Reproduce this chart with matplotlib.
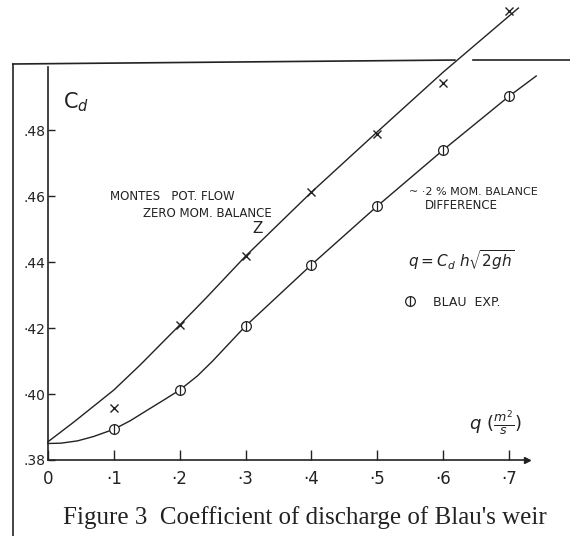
import matplotlib
matplotlib.use("Agg")
import matplotlib.pyplot as plt
from matplotlib.legend_handler import HandlerTuple

# readings taken off the scanned figure
q_ticks = [0, 0.1, 0.2, 0.3, 0.4, 0.5, 0.6, 0.7]
q_ticklabels = ["0", "·1", "·2", "·3", "·4", "·5", "·6", "·7"]
cd_ticks = [0.38, 0.40, 0.42, 0.44, 0.46, 0.48]
cd_ticklabels = [".38", "·40", "·42", ".44", ".46", ".48"]

# Montes potential flow, zero momentum balance (crosses)
q_montes = [0.1, 0.2, 0.3, 0.4, 0.5, 0.6, 0.7]
cd_montes = [0.3958, 0.4209, 0.4418, 0.4612, 0.4788, 0.4942, 0.5160]

# Blau experiment (circles)
q_blau = [0.1, 0.2, 0.3, 0.4, 0.5, 0.6, 0.7]
cd_blau = [0.3893, 0.4012, 0.4206, 0.4392, 0.4570, 0.4740, 0.4903]

# drawn curves
q_upper = [0.0, 0.04, 0.07, 0.1, 0.14, 0.2, 0.24, 0.3, 0.4, 0.5, 0.6, 0.714]
cd_upper = [0.3855, 0.3916, 0.3964, 0.4012, 0.4088, 0.4209, 0.4291, 0.4418,
            0.4612, 0.4795, 0.4976, 0.5170]
q_lower = [0.0, 0.02, 0.045, 0.069, 0.1, 0.125, 0.15, 0.176, 0.2, 0.227, 0.25,
           0.29, 0.3, 0.4, 0.5, 0.6, 0.7, 0.741]
cd_lower = [0.3850, 0.3851, 0.3858, 0.3871, 0.3893, 0.3919, 0.3950, 0.3982,
            0.4012, 0.4055, 0.4100, 0.4185, 0.4206, 0.4392, 0.4570, 0.4740,
            0.4903, 0.4964]

ink = "#222222"

fig = plt.figure(figsize=(5.7, 5.36), dpi=100)
ax = fig.add_axes([0.084, 0.1418, 0.8405, 0.733])

ax.plot(q_upper, cd_upper, color=ink, lw=1.0, clip_on=False)
ax.plot(q_lower, cd_lower, color=ink, lw=1.0, clip_on=False)
ax.plot(q_montes, cd_montes, ls="none", marker="x", ms=6, mew=1.0,
        color=ink, clip_on=False)
circ, = ax.plot(q_blau, cd_blau, ls="none", marker="o", ms=7, mew=0.9,
                mfc="white", mec=ink, clip_on=False)
bar, = ax.plot(q_blau, cd_blau, ls="none", marker="|", ms=7, mew=0.9,
               color=ink, clip_on=False)

ax.set_xlim(0, 0.727)
ax.set_ylim(0.38, 0.4991)
for s in ["top", "right"]:
    ax.spines[s].set_visible(False)
for s in ["left", "bottom"]:
    ax.spines[s].set_linewidth(1.2)
    ax.spines[s].set_color(ink)
ax.plot(1, 0, marker=">", ms=5, color=ink, transform=ax.transAxes, clip_on=False)

ax.set_xticks(q_ticks)
ax.set_xticklabels(q_ticklabels, fontsize=12, color=ink)
ax.set_yticks(cd_ticks)
ax.set_yticklabels(cd_ticklabels, fontsize=10, color=ink)
ax.tick_params(axis="x", direction="in", length=7, width=1, pad=7, colors=ink)
ax.tick_params(axis="y", direction="in", length=5, width=1, pad=2, colors=ink)

# annotations
ax.text(0.023, 0.4885, r"C$_d$", fontsize=15, color=ink, va="center")
ax.text(0.094, 0.4600, "MONTES   POT. FLOW", fontsize=8.5, color=ink, va="center")
ax.text(0.144, 0.4548, "ZERO MOM. BALANCE", fontsize=8.5, color=ink, va="center")
ax.text(0.311, 0.4503, "Z", fontsize=11, color=ink, va="center")
ax.text(0.548, 0.4612, "~ ·2 % MOM. BALANCE", fontsize=8, color=ink, va="center")
ax.text(0.572, 0.4570, "DIFFERENCE", fontsize=8.5, color=ink, va="center")
ax.text(0.546, 0.4406, r"$q = C_d\ h\sqrt{2gh}$", fontsize=11, color=ink,
        va="center")
ax.text(0.639, 0.3912, r"$q\ (\frac{m^2}{s})$", fontsize=13, color=ink,
        va="center")
ax.legend([(circ, bar)], ["BLAU  EXP."],
          handler_map={tuple: HandlerTuple(ndivide=1, pad=0)},
          loc="center left", bbox_to_anchor=(0.743, 0.402),
          borderaxespad=0, borderpad=0,
          frameon=False, fontsize=9, handlelength=1.0, handletextpad=1.35,
          numpoints=1, labelcolor=ink)

# page frame
fig.add_artist(plt.Line2D([0.0228, 0.0228], [0.0, 0.8806], color=ink, lw=1.2))
fig.add_artist(plt.Line2D([0.0228, 0.798], [0.8806, 0.888], color=ink, lw=1.2))
fig.add_artist(plt.Line2D([0.830, 1.0], [0.888, 0.888], color=ink, lw=1.2))

fig.text(0.535, 0.035, "Figure 3  Coefficient of discharge of Blau's weir",
         fontsize=18, family="Liberation Serif", color=ink,
         ha="center", va="center")

fig.savefig("out.png", dpi=100)
